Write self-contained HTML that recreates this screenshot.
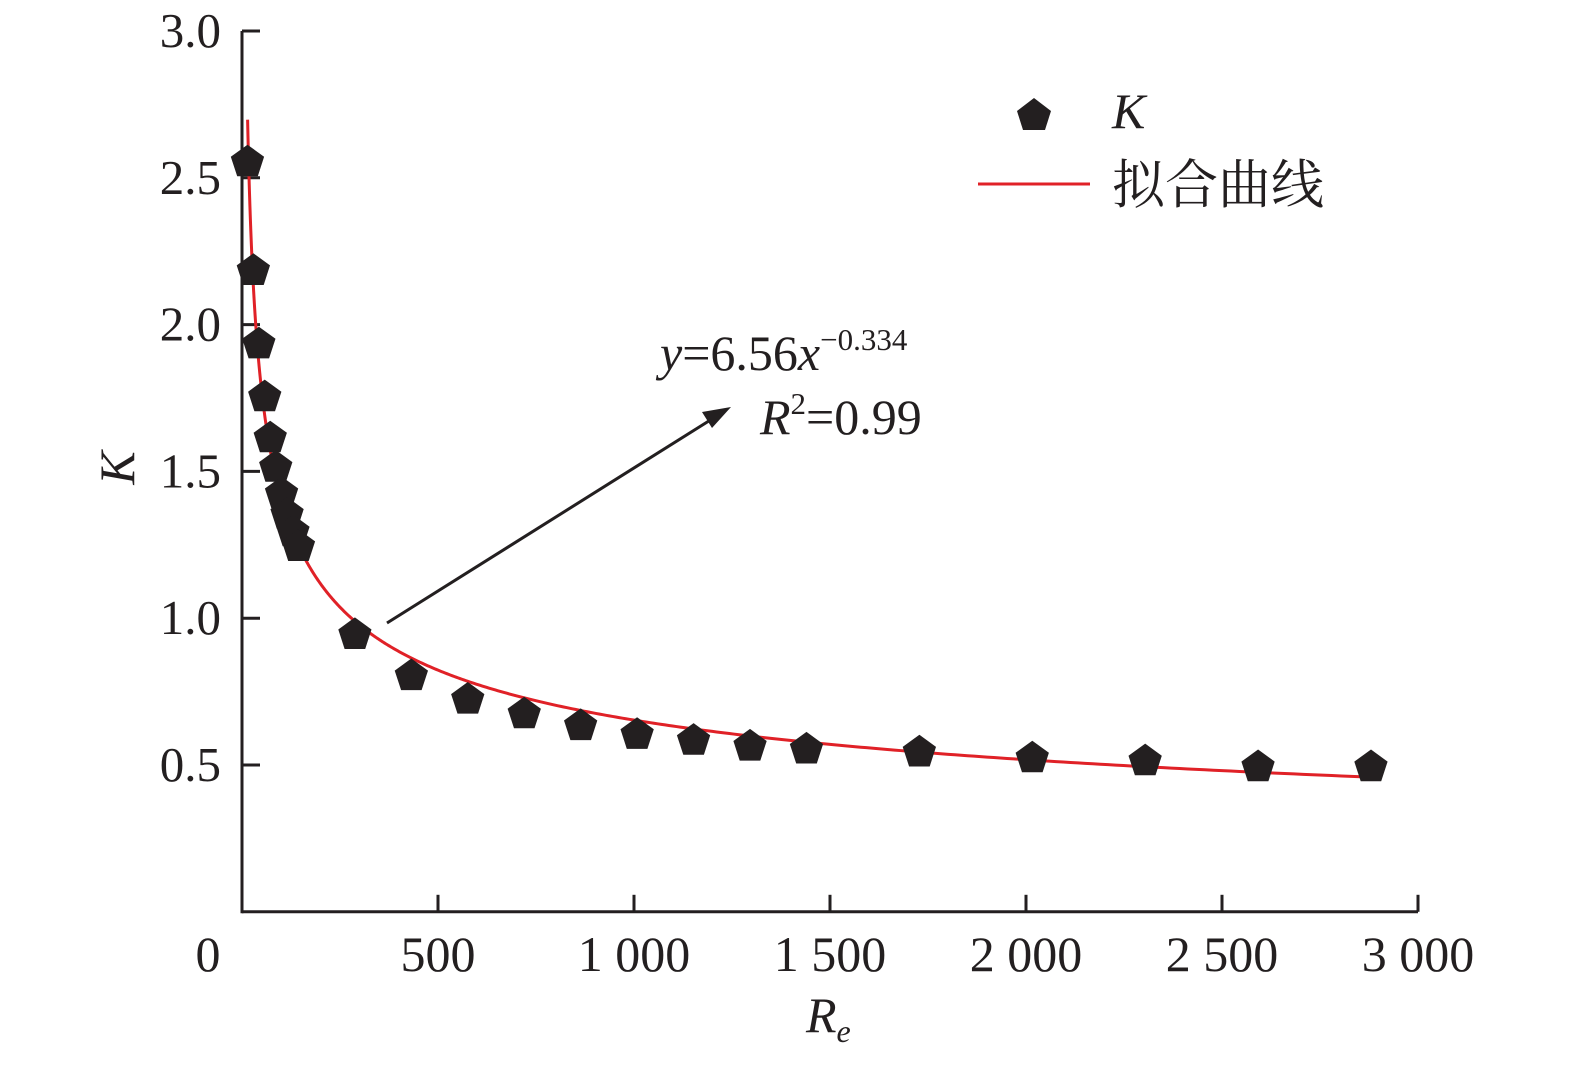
<!DOCTYPE html>
<html><head><meta charset="utf-8"><style>
html,body{margin:0;padding:0;background:#fff;}
svg text{font-family:"Liberation Serif","Noto Serif CJK SC",serif;fill:#231f20;}
</style></head><body>
<svg id="chart" width="1575" height="1066" viewBox="0 0 1575 1066" xmlns="http://www.w3.org/2000/svg">
<g id="axes"></g>
<path id="fit" fill="none" stroke="#e02127" stroke-width="3"/>
<g id="pts"></g>
<g>
  <polygon points="1034,98 1051,111 1045,130 1023,130 1017,111" fill="#231f20"/>
  <text x="1112" y="128" font-size="50" font-style="italic">K</text>
  <line x1="978" y1="184" x2="1090" y2="184" stroke="#e02127" stroke-width="3"/>
  <text x="1112" y="203" font-size="53" font-family="'Noto Serif CJK SC',serif">拟合曲线</text>
</g>
<g>
  <line x1="387" y1="623" x2="712" y2="419" stroke="#231f20" stroke-width="3"/>
  <polygon points="731,407 702,412 712,428" fill="#231f20"/>
  <text x="660" y="370" font-size="50"><tspan font-style="italic">y</tspan>=6.56<tspan font-style="italic">x</tspan><tspan font-size="31" dy="-20">−0.334</tspan></text>
  <text x="760" y="434" font-size="50"><tspan font-style="italic">R</tspan><tspan font-size="31" dy="-20">2</tspan><tspan dy="20">=0.99</tspan></text>
</g>
<text x="806" y="1032" font-size="50" font-style="italic">R<tspan font-size="32" dy="10">e</tspan></text>
<text transform="translate(134,468) rotate(-90)" text-anchor="middle" font-size="50" font-style="italic">K</text>
</svg>
<script>
const xTicks=[0,500,1000,1500,2000,2500,3000];
const xTickLabels=["0","500","1 000","1 500","2 000","2 500","3 000"];
const yTicks=[0.5,1.0,1.5,2.0,2.5,3.0];
const yTickLabels=["0.5","1.0","1.5","2.0","2.5","3.0"];
const reValues=[14,29,43,58,72,86,101,115,130,144,288,432,576,720,864,1008,1152,1296,1440,1728,2016,2304,2592,2880];
const kValues=[2.56,2.19,1.94,1.76,1.62,1.52,1.43,1.36,1.30,1.25,0.95,0.81,0.73,0.68,0.64,0.61,0.59,0.57,0.56,0.55,0.53,0.52,0.50,0.50];
const fitA=6.56, fitB=-0.334, fitStart=14.3, fitEnd=2880;

const X0=242,X1=1418,Y0=911.8,YTOP=31;
const sx=v=>X0+(v/3000)*(X1-X0);
const sy=v=>Y0-(v/3.0)*(Y0-YTOP);
const NS="http://www.w3.org/2000/svg";
function mk(tag,attrs,parent){const e=document.createElementNS(NS,tag);for(const k in attrs)e.setAttribute(k,attrs[k]);parent.appendChild(e);return e;}
const axes=document.getElementById('axes');
let a=mk('line',{x1:X0,y1:Y0,x2:X1,y2:Y0,stroke:'#231f20','stroke-width':3},axes);


a=mk('line',{x1:X0,y1:YTOP,x2:X0,y2:Y0+1.5,stroke:'#231f20','stroke-width':3},axes);


xTicks.forEach((t,i)=>{
  if(i>0){const l=mk('line',{x1:sx(t),y1:Y0,x2:sx(t),y2:Y0-17,stroke:'#231f20','stroke-width':3},axes);
  
  }
  const tx=mk('text',{x:i==0?208:sx(t),y:971,'font-size':50,'text-anchor':'middle'},axes);
  tx.textContent=xTickLabels[i];
  
  
});
yTicks.forEach((t,i)=>{
  const l=mk('line',{x1:X0,y1:sy(t),x2:X0+18,y2:sy(t),stroke:'#231f20','stroke-width':3},axes);
  
  
  const tx=mk('text',{x:221,y:sy(t)+16,'font-size':49,'text-anchor':'end'},axes);
  tx.textContent=yTickLabels[i];
  
  
});
let d='';
for(let i=0;i<=600;i++){const x=fitStart*Math.pow(fitEnd/fitStart,i/600);const y=fitA*Math.pow(x,fitB);d+=(i?'L':'M')+sx(x).toFixed(2)+','+sy(y).toFixed(2);}
document.getElementById('fit').setAttribute('d',d);
const pts=document.getElementById('pts');
reValues.forEach((r,i)=>{
  const cx=sx(r),cy=sy(kValues[i]);const R=17.5;let p=[];
  for(let j=0;j<5;j++){const ang=-Math.PI/2+j*2*Math.PI/5;p.push((cx+R*Math.cos(ang)).toFixed(1)+','+(cy+2+R*Math.sin(ang)).toFixed(1));}
  const g=mk('polygon',{points:p.join(' '),fill:'#231f20'},pts);
  
  
});
</script>
</body></html>
